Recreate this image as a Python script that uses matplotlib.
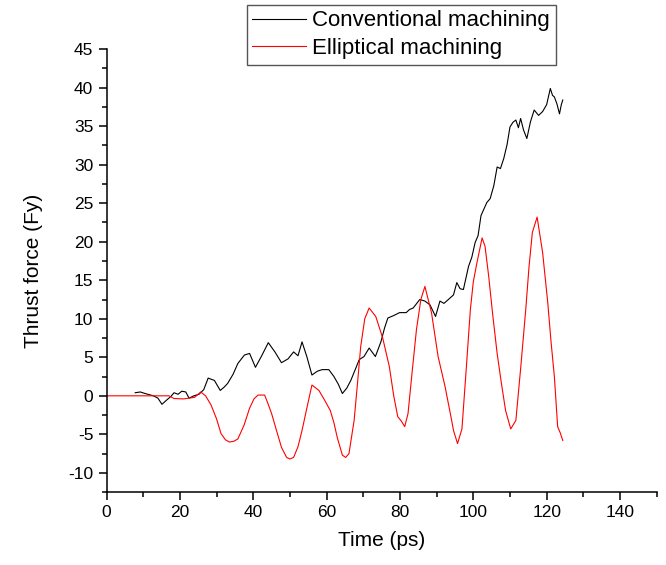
import matplotlib
matplotlib.use("Agg")
import matplotlib.pyplot as plt
from matplotlib.ticker import MultipleLocator

plt.rcParams['font.family'] = ['Liberation Sans', 'DejaVu Sans']
plt.rcParams['axes.unicode_minus'] = False

# Conventional machining (black) - time (ps), thrust force
conv_t = [7.8, 9.2, 10.5, 12.8, 14.0, 15.1, 16.5, 17.5, 18.4, 19.5, 20.5, 21.6, 22.5, 23.8,
          25.2, 26.5, 27.7, 29.4, 31.0, 32.0, 33.0, 34.5, 35.8, 37.6, 39.0, 40.6, 42.3,
          44.1, 45.9, 47.7, 49.5, 51.0, 52.2, 53.3, 54.6, 56.0, 57.5, 58.8, 60.6, 62.0,
          63.2, 64.3, 65.5, 66.6, 67.8, 68.9, 70.2, 71.6, 73.3, 74.8, 75.8, 76.7, 78.2,
          79.9, 81.7, 82.6, 83.6, 85.4, 86.8, 88.2, 89.7, 90.9, 92.0, 93.2, 94.6, 95.5,
          96.4, 97.3, 98.7, 99.6, 100.5, 101.3, 102.1, 103.7, 104.6, 105.6, 106.5, 107.4,
          108.3, 109.2, 110.0, 110.8, 111.6, 112.3, 112.9, 113.7, 114.6, 115.6, 116.6,
          117.8, 118.9, 120.0, 121.0, 121.6, 122.1, 122.8, 123.5, 124.0, 124.4]
conv_f = [0.4, 0.5, 0.3, 0.0, -0.3, -1.1, -0.5, -0.1, 0.4, 0.2, 0.6, 0.5, -0.3, 0.0,
          0.2, 0.8, 2.3, 2.0, 0.7, 1.1, 1.6, 2.8, 4.2, 5.3, 5.5, 3.7, 5.2,
          6.9, 5.7, 4.3, 4.8, 5.7, 5.2, 7.0, 5.1, 2.7, 3.2, 3.4, 3.4, 2.5,
          1.5, 0.3, 1.0, 2.0, 3.4, 4.7, 5.1, 6.2, 5.1, 7.0, 8.8, 10.1, 10.4,
          10.8, 10.8, 11.2, 11.4, 12.5, 12.3, 11.8, 10.3, 12.3, 12.0, 12.5, 13.1, 14.7,
          13.9, 13.8, 16.8, 18.0, 19.9, 20.8, 23.4, 25.1, 25.6, 27.3, 29.7, 29.5,
          30.8, 32.6, 34.9, 35.5, 35.8, 34.8, 36.0, 34.5, 33.4, 35.6, 37.1,
          36.4, 36.9, 37.8, 39.9, 39.0, 38.8, 37.9, 36.6, 37.8, 38.4]

# Elliptical machining (red)
ell_t = [0.0, 5.0, 10.0, 15.0, 17.0, 18.4, 21.0, 24.0, 25.7, 27.0, 28.5, 30.0, 31.2,
         32.4, 33.5, 34.7, 35.8, 37.5, 39.0, 40.2, 41.3, 43.1, 44.0, 45.0, 46.4, 47.7,
         49.1, 50.0, 51.0, 52.2, 53.3, 54.7, 56.0, 57.9, 59.5, 61.0, 62.0, 62.9, 64.3,
         65.2, 66.1, 67.5, 68.4, 69.3, 70.4, 71.6, 73.4, 75.3, 77.1, 78.3, 79.4, 80.4,
         81.3, 82.2, 83.3, 84.5, 85.7, 86.8, 88.6, 90.4, 92.3, 94.1, 94.6, 95.7, 96.9,
         98.0, 99.2, 100.0, 101.0, 102.4, 103.2, 104.2, 105.3, 106.5, 107.7, 108.8,
         110.2, 111.6, 112.9, 114.3, 115.2, 116.1, 117.4, 118.9, 120.3, 121.2, 122.1,
         123.0, 123.7, 124.4]
ell_f = [0.0, 0.0, 0.0, 0.0, 0.0, -0.35, -0.4, -0.2, 0.5, 0.0, -1.2, -3.0, -4.9,
         -5.7, -6.0, -5.9, -5.6, -3.8, -1.6, -0.4, 0.1, 0.1, -1.0, -2.3, -4.6, -6.7,
         -8.0, -8.2, -8.0, -6.6, -4.5, -1.4, 1.4, 0.7, -0.6, -1.9, -3.5, -5.4, -7.7,
         -8.0, -7.5, -3.2, 1.5, 6.4, 10.0, 11.4, 10.3, 7.5, 3.8, 0.0, -2.7, -3.3,
         -4.0, -2.3, 3.0, 8.6, 12.5, 14.2, 10.8, 5.1, 1.2, -3.2, -4.5, -6.2, -4.3,
         3.0, 11.2, 14.8, 17.3, 20.5, 19.4, 15.5, 10.5, 5.5, 1.5, -1.9,
         -4.3, -3.2, 3.5, 11.2, 16.8, 21.2, 23.2, 18.6, 12.1, 7.0, 2.5,
         -4.0, -4.8, -5.8]

fig = plt.figure(figsize=(6.66, 5.65), dpi=100)
ax = fig.add_axes([0.160, 0.129, 0.826, 0.784])

l1, = ax.plot(conv_t, conv_f, color='black', lw=0.8, label='Conventional machining')
l2, = ax.plot(ell_t, ell_f, color='red', lw=0.8, label='Elliptical machining')

ax.set_xlim(0, 150)
ax.set_ylim(-12.5, 45)
ax.xaxis.set_major_locator(MultipleLocator(20))
ax.xaxis.set_minor_locator(MultipleLocator(10))
ax.yaxis.set_major_locator(MultipleLocator(5))
ax.yaxis.set_minor_locator(MultipleLocator(2.5))
ax.set_yticks(range(-10, 50, 5))

for s in ['top', 'right']:
    ax.spines[s].set_visible(False)
for s in ['left', 'bottom']:
    ax.spines[s].set_linewidth(1.1)
ax.tick_params(which='major', direction='out', length=6, width=1.1, labelsize=12.5)
ax.tick_params(which='minor', direction='out', length=3.5, width=1.1)

ax.set_xlabel('Time (ps)', fontsize=15, labelpad=8)
ax.set_ylabel('Thrust force (Fy)', fontsize=15, labelpad=18)

leg = ax.legend(handles=[l1, l2], loc='upper left', bbox_to_anchor=(0.255, 1.1),
                fontsize=16, frameon=True, fancybox=False, framealpha=1,
                borderpad=0.25, handlelength=2.4, handletextpad=0.3, labelspacing=0.3,
                borderaxespad=0)
leg.get_frame().set_edgecolor('#555555')
leg.get_frame().set_linewidth(1.0)

fig.savefig('out.png', dpi=100)
